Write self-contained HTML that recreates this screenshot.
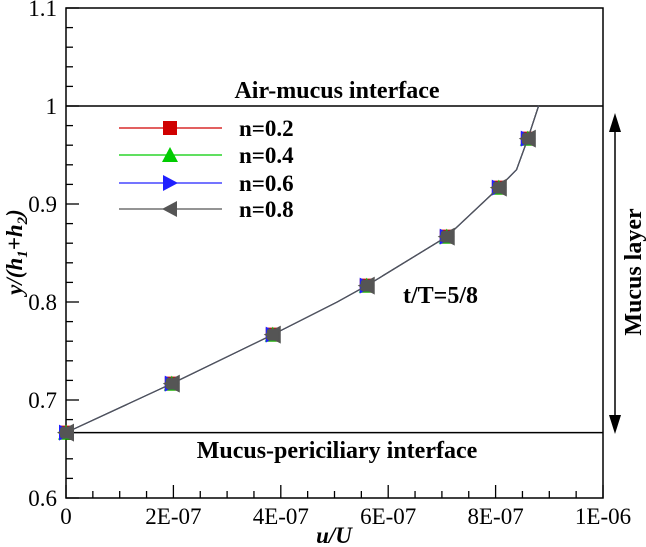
<!DOCTYPE html>
<html><head><meta charset="utf-8"><style>
body{margin:0;background:#fff}
svg{display:block;font-family:"Liberation Serif",serif}
</style></head><body>
<svg id="chart" width="646" height="547" viewBox="0 0 646 547" xmlns="http://www.w3.org/2000/svg"></svg>
<script>
const xTicks=[0,2e-7,4e-7,6e-7,8e-7,1e-6];
const xTickLabels=["0","2E-07","4E-07","6E-07","8E-07","1E-06"];
const yTicks=[0.6,0.7,0.8,0.9,1.0,1.1];
const yTickLabels=["0.6","0.7","0.8","0.9","1","1.1"];
const markerX=[0,1.97e-7,3.85e-7,5.6e-7,7.09e-7,8.06e-7,8.6e-7];
const markerY=[0.6667,0.7167,0.7667,0.8167,0.8667,0.9167,0.9667];
const lineX=[0,1.97e-7,3.85e-7,5.05e-7,5.6e-7,7.09e-7,8.06e-7,8.39e-7,8.6e-7,8.8e-7];
const lineY=[0.6667,0.7167,0.7667,0.8,0.8167,0.8667,0.9167,0.935,0.9667,1.0];
const seriesNames=["n=0.2","n=0.4","n=0.6","n=0.8"];
const seriesColors=["#d00000","#00cc00","#2020ff","#555555"];
const seriesMarkers=["square","triangle","right","left"];
const interfaceY=[1.0,0.6667];

const NS="http://www.w3.org/2000/svg";
const svg=document.getElementById('chart');
const L=66,R=603,T=8,B=498;
const xs=v=>L+(v-0)/1e-6*(R-L);
const ys=v=>B-(v-0.6)/0.5*(B-T);
function el(tag,attrs,parent){const e=document.createElementNS(NS,tag);for(const k in attrs)e.setAttribute(k,attrs[k]);(parent||svg).appendChild(e);return e;}

const frame=el('rect',{x:L,y:T,width:R-L,height:B-T,fill:'none',stroke:'#000','stroke-width':1.5});



for(let i=0;i<=20;i++){const v=i*0.5e-7;const x=xs(v);const major=i%4===0;
 const t=el('line',{x1:x,y1:B,x2:x,y2:B-(major?13:7),stroke:'#000','stroke-width':1.3});
 
 }
xTicks.forEach((v,i)=>{const t=el('text',{x:xs(v),y:524,'text-anchor':'middle','font-size':23});t.textContent=xTickLabels[i];
 
 });
for(let i=0;i<=25;i++){const v=0.6+i*0.02;const y=ys(v);const major=i%5===0;
 const t=el('line',{x1:L,y1:y,x2:L+(major?13:7),y2:y,stroke:'#000','stroke-width':1.3});
 
 }
yTicks.forEach((v,i)=>{const t=el('text',{x:57,y:ys(v)+8,'text-anchor':'end','font-size':23});t.textContent=yTickLabels[i];
 
 });

interfaceY.forEach(v=>{const l=el('line',{x1:L,y1:ys(v),x2:R,y2:ys(v),stroke:'#000','stroke-width':1.5});
 
 });

function marker(type,cx,cy,color,s,parent){
 let m;
 if(type==='square')m=el('rect',{x:cx-s,y:cy-s,width:2*s,height:2*s,fill:color},parent);
 else if(type==='triangle')m=el('polygon',{points:`${cx},${cy-s-1} ${cx-s-1},${cy+s} ${cx+s+1},${cy+s}`,fill:color},parent);
 else if(type==='right')m=el('polygon',{points:`${cx+s+1},${cy} ${cx-s},${cy-s-1} ${cx-s},${cy+s+1}`,fill:color},parent);
 else m=el('polygon',{points:`${cx-s-1},${cy} ${cx+s},${cy-s-1} ${cx+s},${cy+s+1}`,fill:color},parent);
 return m;}

seriesNames.forEach((n,si)=>{
 const g=el('g',{});
 
 
 const pts=lineX.map((x,i)=>xs(x)+','+ys(lineY[i])).join(' ');
 const pl=el('polyline',{points:pts,fill:'none',stroke:si===3?'#555':seriesColors[si],'stroke-width':1.2},g);
 
 
 markerX.forEach((x,i)=>{const m=marker(seriesMarkers[si],xs(x),ys(markerY[i]),seriesColors[si],si===3?8:7,g);
  
  });
 if(si===3){markerX.forEach((x,i)=>{const c=el('rect',{x:xs(x)-6,y:ys(markerY[i])-6,width:12,height:12,rx:3,fill:'#555'},g);
  
  });}
});

const legY=[128,155,183,209];
seriesNames.forEach((n,i)=>{
 const g=el('g',{});
 
 
 el('line',{x1:119,y1:legY[i],x2:222,y2:legY[i],stroke:seriesColors[i],'stroke-width':1.3},g);
 marker(seriesMarkers[i],170,legY[i],seriesColors[i],7,g);
 const t=el('text',{x:239,y:legY[i]+8,'font-size':23,'font-weight':'bold'},g);t.textContent=n;
});

function label(txt,attrs,name){const t=el('text',attrs);t.textContent=txt;
 
 return t;}
label('Air-mucus interface',{x:337,y:98,'text-anchor':'middle','font-size':24,'font-weight':'bold'},'air-mucus-label');
label('Mucus-periciliary interface',{x:337,y:458,'text-anchor':'middle','font-size':24,'font-weight':'bold'},'mucus-periciliary-label');
label('t/T=5/8',{x:403,y:303,'font-size':24,'font-weight':'bold'},'time-label');
label('u/U',{x:334,y:543,'text-anchor':'middle','font-size':23,'font-weight':'bold','font-style':'italic'},'x-axis-title');
const yt=el('text',{transform:'translate(22,252) rotate(-90)','text-anchor':'middle','font-size':23,'font-weight':'bold','font-style':'italic'});
yt.innerHTML='y/(h<tspan font-size="15" dy="5">1</tspan><tspan dy="-5">+h</tspan><tspan font-size="15" dy="5">2</tspan><tspan dy="-5">)</tspan>';



const ag=el('g',{});


el('line',{x1:615,y1:125,x2:615,y2:422,stroke:'#000','stroke-width':1.5},ag);
el('polygon',{points:'615,113 609,132 621,132',fill:'#000'},ag);
el('polygon',{points:'615,434 609,415 621,415',fill:'#000'},ag);
label('Mucus layer',{transform:'translate(641,272) rotate(-90)','text-anchor':'middle','font-size':24,'font-weight':'bold'},'mucus-layer-label');
</script>
</body></html>
